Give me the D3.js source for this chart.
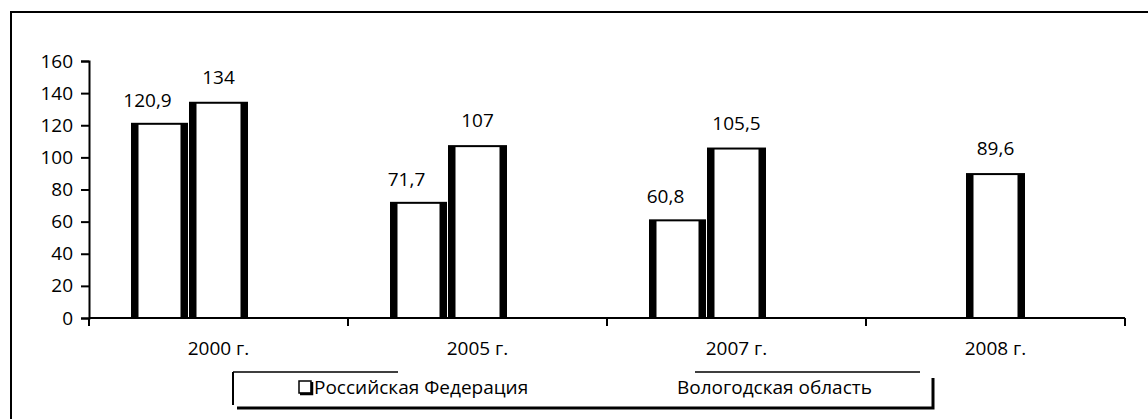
<!DOCTYPE html>
<html>
<head>
<meta charset="utf-8">
<script src="https://cdn.jsdelivr.net/npm/d3@7"></script>
<style>
  body { margin: 0; background: #fff; }
  text { font-family: "Open Sans", sans-serif; font-size: 19px; fill: #000; }
</style>
</head>
<body>
<div id="chart"></div>
<script>
// categories and series
var years = ["2000 г.", "2005 г.", "2007 г.", "2008 г."];
var rf = [120.9, 71.7, 60.8, null];
var vol = [134, 107, 105.5, 89.6];
var rfLabels = ["120,9", "71,7", "60,8", ""];
var volLabels = ["134", "107", "105,5", "89,6"];
var seriesNames = ["Российская Федерация", "Вологодская область"];
var yTicks = [0, 20, 40, 60, 80, 100, 120, 140, 160];

var W = 1148, H = 419;

var svg = d3.select("#chart")
	.append("svg")
	.attr("width", W)
	.attr("height", H);

// outer frame (only left and top visible)
svg.append("path")
	.attr("d", "M11,430 V12 H1160")
	.attr("fill", "none")
	.attr("stroke", "#000")
	.attr("stroke-width", 2);

var x = d3.scaleBand()
	.domain(years)
	.range([89, 1125])
	.paddingInner(0)
	.paddingOuter(0);

var y = d3.scaleLinear()
	.domain([0, 160])
	.range([318, 61]);

var barW = 57;

// y axis
var yAxis = svg.append("g")
	.attr("transform", "translate(89,0)")
	.call(d3.axisLeft(y).tickValues(yTicks).tickSize(8).tickPadding(8));
yAxis.select(".domain").attr("stroke-width", 2);
yAxis.selectAll(".tick line").attr("stroke-width", 2);
yAxis.selectAll("text").style("font-size", "19px").style("font-family", "Open Sans, sans-serif");

// x axis
var xAxis = svg.append("g")
	.attr("transform", "translate(0,318)")
	.call(d3.axisBottom(x).tickSize(0).tickPadding(24));
xAxis.select(".domain").attr("stroke-width", 2).attr("d", "M89,0H1125");
xAxis.selectAll("text").style("font-size", "19px").style("font-family", "Open Sans, sans-serif");

// category boundary ticks
var bounds = years.map(function(d){ return x(d); }).concat([x.range()[1]]);
svg.selectAll(".xb")
	.data(bounds)
	.enter()
	.append("line")
	.attr("x1", function(d){ return d; })
	.attr("x2", function(d){ return d; })
	.attr("y1", 318)
	.attr("y2", 326)
	.attr("stroke", "#000")
	.attr("stroke-width", 2);

function drawBar(g, x0, w, v) {
	var top = y(v), bot = y(0);
	g.append("rect")
		.attr("x", x0)
		.attr("y", top)
		.attr("width", w)
		.attr("height", bot - top)
		.attr("fill", "#fff")
		.attr("stroke", "#000")
		.attr("stroke-width", 2);
	// thick side edges
	[x0 + 3, x0 + w - 3].forEach(function(sx){
		g.append("line")
			.attr("x1", sx).attr("x2", sx)
			.attr("y1", top).attr("y2", bot)
			.attr("stroke", "#000")
			.attr("stroke-width", 7);
	});
}

var bars = svg.append("g");

years.forEach(function(c, i){
	var cx = x(c) + x.bandwidth() / 2;
	if (rf[i] != null) {
		drawBar(bars, cx - barW / 2 - barW - 1, barW - 2, rf[i]);
		svg.append("text")
			.attr("x", cx - barW - 14)
			.attr("y", y(rf[i]) - 17)
			.attr("text-anchor", "middle")
			.text(rfLabels[i]);
	}
	drawBar(bars, cx - barW / 2, barW, vol[i]);
	svg.append("text")
		.attr("x", cx)
		.attr("y", y(vol[i]) - 19)
		.attr("text-anchor", "middle")
		.text(volLabels[i]);
});

// legend
var leg = svg.append("g");
leg.append("path")
	.attr("d", "M233,372 V405")
	.attr("stroke", "#000").attr("stroke-width", 2).attr("fill", "none");
leg.append("path")
	.attr("d", "M233,372 H398 M695,372 H920")
	.attr("stroke", "#000").attr("stroke-width", 1.5).attr("fill", "none");
leg.append("path")
	.attr("d", "M237,408 H933 V378")
	.attr("stroke", "#000").attr("stroke-width", 3).attr("fill", "none");

leg.append("rect")
	.attr("x", 299).attr("y", 381)
	.attr("width", 12).attr("height", 12)
	.attr("fill", "#fff").attr("stroke", "#000").attr("stroke-width", 1.5);
leg.append("path")
	.attr("d", "M300,394 H312 V382")
	.attr("stroke", "#000").attr("stroke-width", 2.5).attr("fill", "none");

leg.append("text")
	.attr("x", 314).attr("y", 394)
	.text(seriesNames[0]);
leg.append("text")
	.attr("x", 677).attr("y", 394)
	.text(seriesNames[1]);
</script>
</body>
</html>
